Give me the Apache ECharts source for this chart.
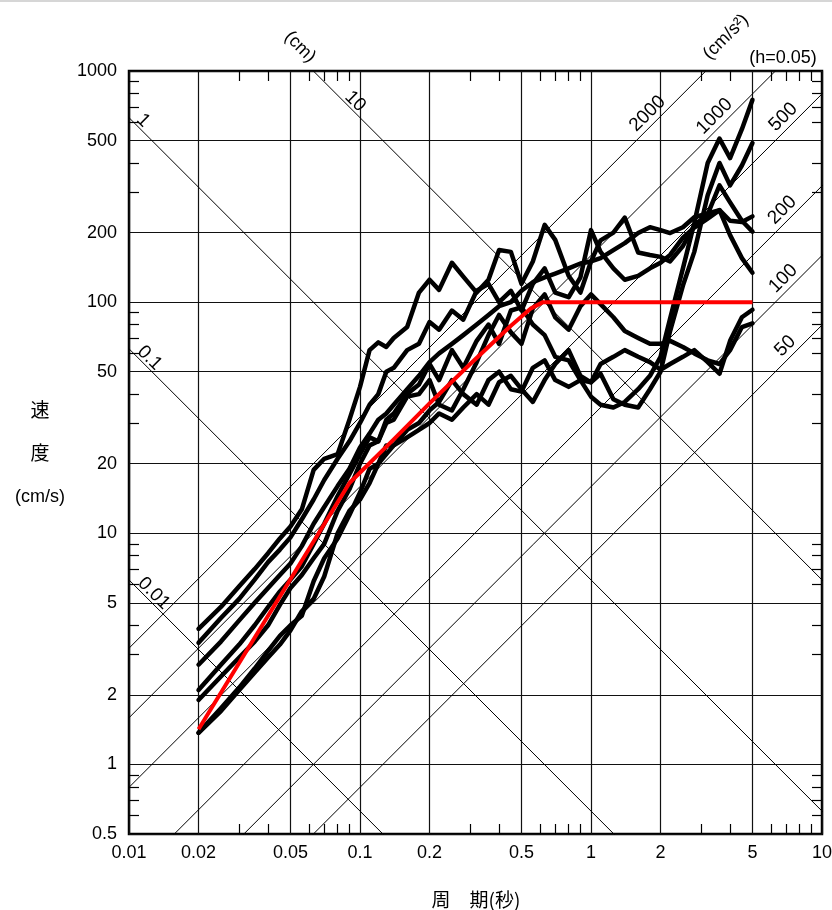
<!DOCTYPE html>
<html>
<head>
<meta charset="utf-8">
<script src="https://cdn.jsdelivr.net/npm/echarts@6/dist/echarts.min.js"></script>
<style>
  html, body { margin: 0; padding: 0; background: #fff; }
  #chart { width: 832px; height: 910px; }
</style>
</head>
<body>
<div id="chart"></div>
<script>
// Natural periods (s) at which every record's velocity response is listed
const periods = [
  0.02, 0.025, 0.03, 0.035, 0.04, 0.045, 0.05, 0.056, 0.063, 0.07, 0.08, 0.09,
  0.1, 0.11, 0.12, 0.13, 0.14, 0.16, 0.18, 0.2, 0.22, 0.25, 0.28, 0.32,
  0.36, 0.4, 0.45, 0.5, 0.56, 0.63, 0.7, 0.8, 0.9, 1.0, 1.1, 1.25,
  1.4, 1.6, 1.8, 2.0, 2.2, 2.5, 2.8, 3.2, 3.6, 4.0, 4.5, 5.0
];

// Pseudo-velocity response spectra (cm/s), h = 0.05
const recordA = [
  1.37, 1.75, 2.15, 2.6, 3.1, 3.6, 4.0, 4.4, 6.2, 7.8, 9.5, 12,
  15, 19, 20, 24, 24, 28, 30, 34, 37, 46, 40, 36,
  46, 50, 42, 41, 52, 56, 46, 43, 46, 39, 36, 35,
  37, 42, 48, 58, 85, 140, 220, 400, 510, 420, 560, 750
];
const recordB = [
  1.37, 1.7, 2.1, 2.5, 2.9, 3.3, 3.8, 4.6, 5.2, 6.5, 10, 12.5,
  14, 16.5, 20, 22, 24, 26, 28, 30, 33, 31, 35, 40,
  36, 45, 48, 42, 37, 46, 54, 62, 48, 45, 49, 38,
  36, 35, 42, 50, 75, 118, 165, 290, 400, 320, 390, 488
];
const recordC = [
  2.7, 3.4, 4.2, 5.0, 5.8, 6.6, 7.4, 8.8, 11, 13, 16, 19,
  23.5, 27, 31, 33, 36, 42, 48, 55, 60, 66, 72, 80,
  88, 96, 100, 112, 122, 128, 133, 140, 147, 150, 155, 168,
  180, 199, 211, 205, 199, 211, 233, 242, 250, 225, 222, 235
];
const recordD = [
  3.86, 4.8, 5.9, 7.0, 8.2, 9.5, 10.7, 12.7, 18.8, 21, 22, 31,
  43, 62, 67, 64, 70, 78, 110, 125, 113, 148, 129, 110,
  125, 168, 165, 120, 150, 216, 186, 130, 110, 150, 185, 200,
  232, 164, 160, 157, 150, 175, 215, 240, 320, 270, 225, 202
];
const recordE = [
  3.36, 4.3, 5.2, 6.3, 7.5, 8.5, 9.6, 11.5, 14, 17, 21, 25,
  30, 36, 40, 50, 52, 62, 66, 82, 76, 92, 84, 112,
  120, 100, 112, 92, 120, 140, 110, 105, 128, 205, 165, 140,
  125, 130, 140, 148, 160, 190, 210, 230, 250, 195, 155, 134
];
const recordF = [
  2.1, 2.7, 3.3, 4.0, 4.8, 5.6, 6.3, 7.2, 9, 11, 14.5, 18,
  22, 26, 25, 31, 33, 40, 44, 54, 46, 62, 52, 68,
  80, 66, 92, 95, 80, 72, 58, 56, 46, 45, 54, 58,
  62, 58, 55, 51, 54, 58, 62, 55, 49, 68, 86, 92.7
];
const recordG = [
  1.9, 2.4, 2.9, 3.4, 4.0, 4.9, 5.8, 6.6, 7.8, 9.0, 12.5, 15.5,
  20, 24, 25, 30, 31, 39, 40, 46, 36, 34, 42, 55,
  72, 88, 74, 66, 94, 108, 86, 76, 96, 108, 98, 86,
  75, 70, 66, 66, 68, 64, 60, 56, 54, 62, 78, 81
];

// Design spectrum (red)
const designPeriods = [0.02, 0.09, 0.14, 0.2, 0.3, 0.45, 0.55, 0.62, 5.0];
const designVelocity = [1.42, 16.5, 25.5, 36.5, 54, 79, 94, 100, 100];

// Axis ticks
const xMajorTicks = [0.01, 0.02, 0.05, 0.1, 0.2, 0.5, 1, 2, 5, 10];
const xMinorTicks = [0.03, 0.04, 0.06, 0.07, 0.08, 0.09, 0.3, 0.4, 0.6, 0.7, 0.8, 0.9, 3, 4, 6, 7, 8, 9];
const yMajorTicks = [0.5, 1, 2, 5, 10, 20, 50, 100, 200, 500, 1000];
const yMinorTicks = [0.6, 0.7, 0.8, 0.9, 3, 4, 6, 7, 8, 9, 30, 40, 60, 70, 80, 90, 300, 400, 600, 700, 800, 900];

// Tripartite guide lines: constant displacement (cm) and constant acceleration (cm/s^2)
const dispLevels = [0.01, 0.1, 1, 10];
const dispLabelPeriods = [0.0121, 0.0116, 0.0109, 0.09];
const accLevels = [50, 100, 200, 500, 1000, 2000];
const accLabelPeriods = [7.5, 7.35, 7.27, 7.35, 3.7, 1.9];

const TWO_PI = 2 * Math.PI;
const FONT = "'Liberation Sans', Arial, sans-serif";
const CJK = "'Noto Sans CJK JP', 'Noto Sans CJK SC', sans-serif";

const fmt = v => String(+(+v).toPrecision(6));

function pairs(xs, ys) { return xs.map((x, i) => [x, ys[i]]); }

const guideStyle = { color: '#000', width: 1 };
const series = [];

dispLevels.forEach(d => {
  series.push({
    type: 'line', symbol: 'none', silent: true, clip: true, z: 1,
    lineStyle: guideStyle,
    data: [[0.001, TWO_PI * d / 0.001], [100, TWO_PI * d / 100]]
  });
});
accLevels.forEach(a => {
  series.push({
    type: 'line', symbol: 'none', silent: true, clip: true, z: 1,
    lineStyle: guideStyle,
    data: [[0.001, a * 0.001 / TWO_PI], [100, a * 100 / TWO_PI]]
  });
});

const guideLabel = {
  show: true, position: 'inside', formatter: '{b}',
  color: '#000', opacity: 1, fontSize: 19, fontFamily: FONT,
  textBorderWidth: 0, textBorderColor: 'transparent',
  align: 'center', verticalAlign: 'middle'
};
const hiddenSymbol = { color: '#000', opacity: 1 };

// Guide line labels
series.push({
  type: 'scatter', symbolSize: 0, silent: true, z: 2,
  itemStyle: hiddenSymbol,
  data: dispLevels.map((d, i) => ({
    name: String(d),
    value: [dispLabelPeriods[i], TWO_PI * d / dispLabelPeriods[i]]
  })),
  label: Object.assign({}, guideLabel, { rotate: -45, offset: [0, -8] })
});
series.push({
  type: 'scatter', symbolSize: 0, silent: true, z: 2,
  itemStyle: hiddenSymbol,
  data: accLevels.map((a, i) => ({
    name: String(a),
    value: [accLabelPeriods[i], a * accLabelPeriods[i] / TWO_PI]
  })),
  label: Object.assign({}, guideLabel, { rotate: 45, offset: [0, -11] })
});

[recordA, recordB, recordC, recordD, recordE, recordF, recordG].forEach(rec => {
  series.push({
    type: 'line', symbol: 'none', z: 3,
    lineStyle: { color: '#000', width: 4.5, join: 'round', cap: 'round' },
    data: pairs(periods, rec)
  });
});

series.push({
  type: 'line', symbol: 'none', z: 4,
  lineStyle: { color: '#ff0000', width: 4, join: 'round' },
  data: pairs(designPeriods, designVelocity)
});

function logAxis(extra, min, max) {
  return Object.assign({
    type: 'log', logBase: 10, min: min, max: max,
    axisLine: { show: false },
    axisLabel: { show: false },
    axisTick: { show: false },
    splitLine: { show: false },
    minorTick: { show: false },
    minorSplitLine: { show: false }
  }, extra);
}

const labelStyle = { color: '#000', fontSize: 18, fontFamily: FONT, formatter: fmt };
const minorTickStyle = { show: true, inside: true, length: 10, lineStyle: { color: '#000', width: 1.2 } };

const option = {
  animation: false,
  backgroundColor: '#fff',
  grid: {
    left: 129, right: 10, top: 71, bottom: 76,
    containLabel: false, outerBoundsMode: 'none',
    show: true, borderColor: '#000', borderWidth: 2.5, backgroundColor: 'transparent'
  },
  xAxis: [
    logAxis({
      position: 'bottom',
      axisTick: { show: false, customValues: xMajorTicks },
      axisLabel: Object.assign({ show: true, margin: 10, customValues: xMajorTicks }, labelStyle),
      splitLine: { show: true, lineStyle: { color: '#111', width: 1.2 } }
    }, 0.01, 10),
    logAxis({ position: 'bottom', axisTick: Object.assign({ customValues: xMinorTicks }, minorTickStyle) }, 0.01, 10),
    logAxis({ position: 'top', axisTick: Object.assign({ customValues: xMinorTicks }, minorTickStyle) }, 0.01, 10)
  ],
  yAxis: [
    logAxis({
      position: 'left',
      axisTick: { show: false, customValues: yMajorTicks },
      axisLabel: Object.assign({ show: true, margin: 12, customValues: yMajorTicks }, labelStyle),
      splitLine: { show: true, lineStyle: { color: '#111', width: 1.2 } }
    }, 0.5, 1000),
    logAxis({ position: 'left', axisTick: Object.assign({ customValues: yMinorTicks }, minorTickStyle) }, 0.5, 1000),
    logAxis({ position: 'right', axisTick: Object.assign({ customValues: yMinorTicks }, minorTickStyle) }, 0.5, 1000)
  ],
  series: series,
  graphic: [
    { type: 'rect', silent: true, shape: { x: 0, y: 0, width: 832, height: 2 }, style: { fill: '#d6d6d6' } },
    { type: 'text', x: 300, y: 47, rotation: -Math.PI / 4,
      style: { text: '(cm)', fontSize: 18, fontFamily: FONT, fill: '#000', align: 'center', verticalAlign: 'middle' } },
    { type: 'text', x: 726, y: 37, rotation: Math.PI / 4,
      style: { text: '(cm/s²)', fontSize: 18, fontFamily: FONT, fill: '#000', align: 'center', verticalAlign: 'middle' } },
    { type: 'text', x: 783, y: 58,
      style: { text: '(h=0.05)', fontSize: 18, fontFamily: FONT, fill: '#000', align: 'center', verticalAlign: 'middle' } },
    { type: 'text', x: 40, y: 410,
      style: { text: '速', fontSize: 19, fontFamily: CJK, fill: '#000', align: 'center', verticalAlign: 'middle' } },
    { type: 'text', x: 40, y: 453,
      style: { text: '度', fontSize: 19, fontFamily: CJK, fill: '#000', align: 'center', verticalAlign: 'middle' } },
    { type: 'text', x: 40, y: 497,
      style: { text: '(cm/s)', fontSize: 18, fontFamily: FONT, fill: '#000', align: 'center', verticalAlign: 'middle' } },
    { type: 'text', x: 476, y: 900,
      style: { text: '周　期(秒)', fontSize: 19, fontFamily: CJK, fill: '#000', align: 'center', verticalAlign: 'middle' } }
  ]
};

const chart = echarts.init(document.getElementById('chart'), null, { renderer: 'canvas' });
chart.setOption(option);
</script>
</body>
</html>
